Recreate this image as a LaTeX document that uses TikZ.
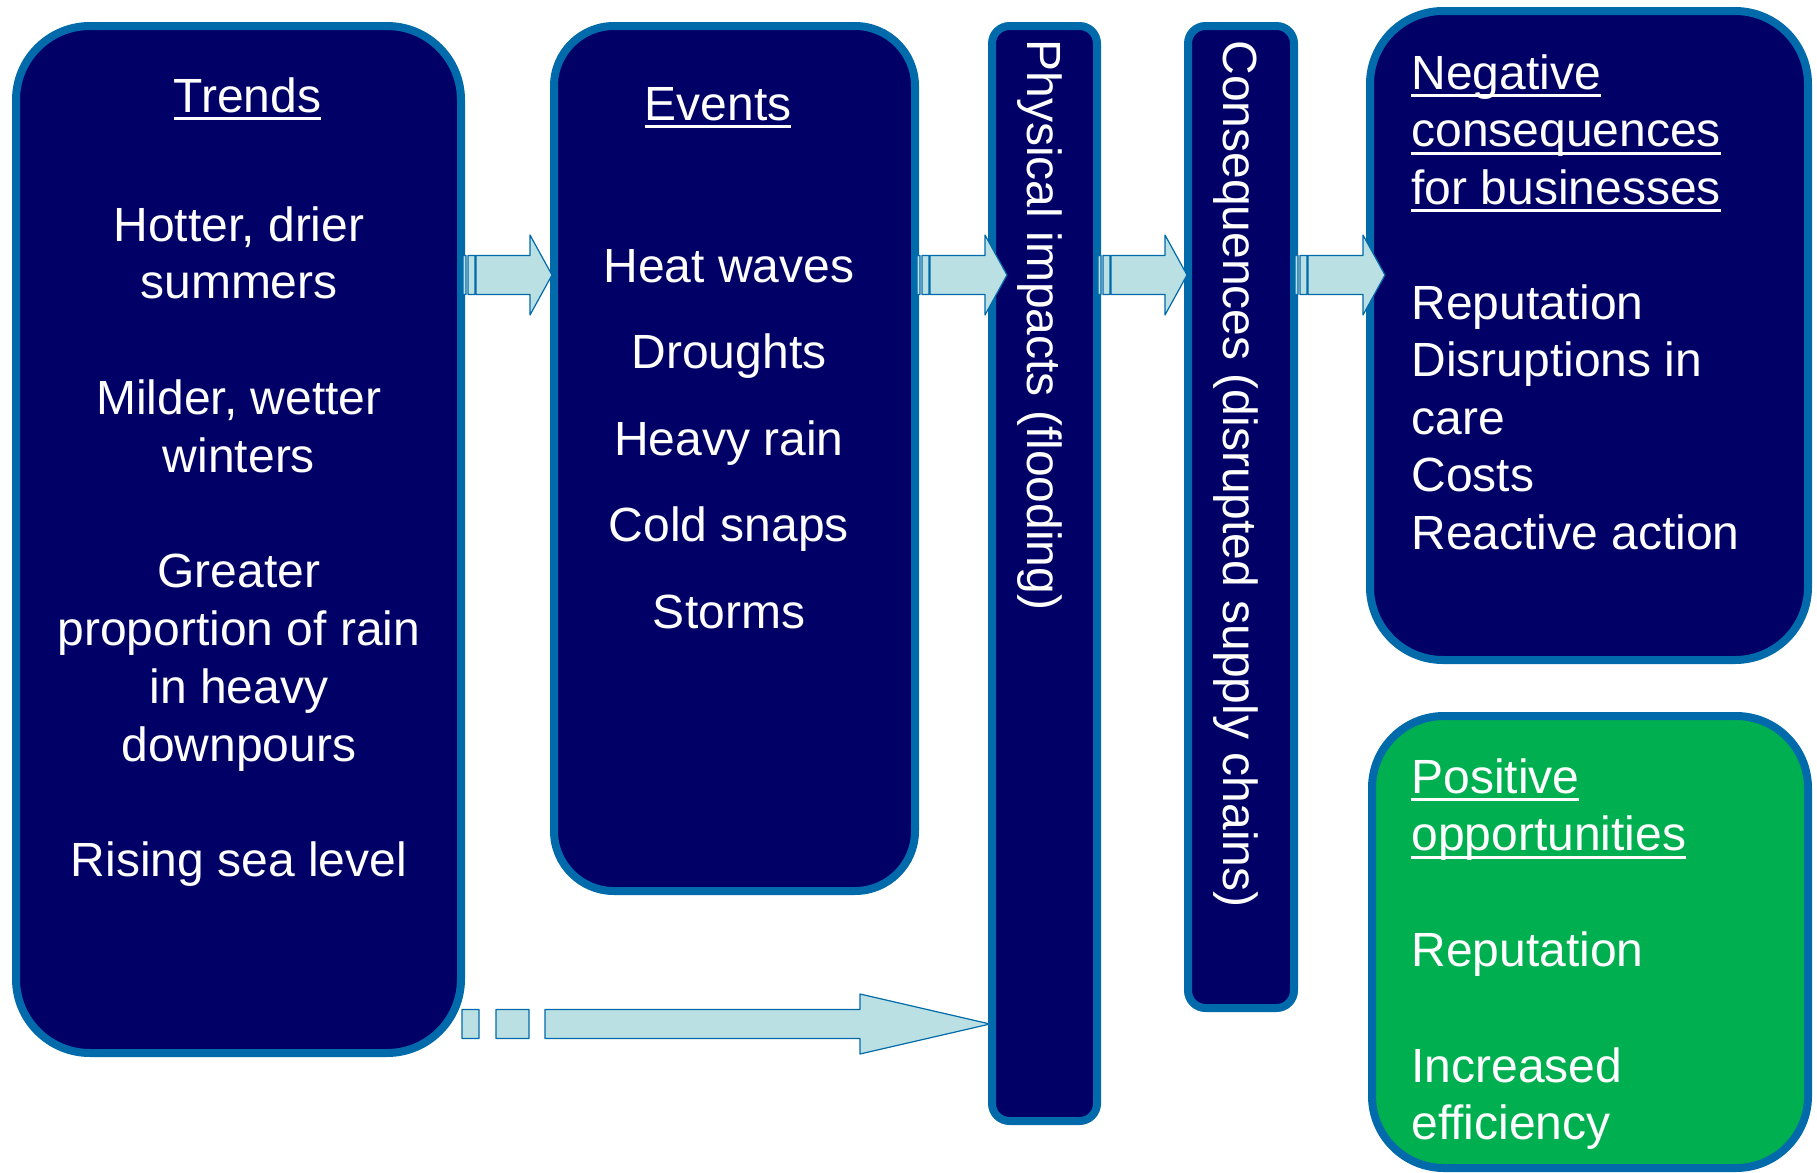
\documentclass[tikz,border=0pt]{standalone}
\usepackage{fontspec}
\setmainfont{Liberation Sans}
\usetikzlibrary{calc}
\definecolor{navy}{RGB}{0,0,102}
\definecolor{rim}{RGB}{0,106,170}
\definecolor{pale}{RGB}{186,224,227}
\definecolor{leaf}{RGB}{0,176,80}
\newcommand{\ulin}[1]{\setbox0\hbox{#1}\rlap{\vrule width\wd0 height -2.5pt depth 4pt}\box0}
% striped block arrow: start, tip
\newcommand{\stripearrow}[2]{%
  \draw[blockarrow] let \p1=#1, \p2=#2 in
    (\x1,\y1-9.75pt) rectangle (\x1+1.5pt,\y1+9.75pt)
    (\x1+2.5pt,\y1-9.75pt) rectangle (\x1+6pt,\y1+9.75pt)
    (\x1+6.5pt,\y1-9.75pt) -- (\x2-11pt,\y1-9.75pt) -- (\x2-11pt,\y1-20pt) -- (\x2,\y1)
    -- (\x2-11pt,\y1+20pt) -- (\x2-11pt,\y1+9.75pt) -- (\x1+6.5pt,\y1+9.75pt) -- cycle;}
\begin{document}
\begin{tikzpicture}[x=0.5pt,y=-0.5pt, line join=round,
	box/.style={draw=rim, line width=4pt, fill=navy, inner sep=0pt, outer sep=0pt},
	blockarrow/.style={draw=rim, fill=pale, line width=0.6pt},
	txt/.style={text=white, inner sep=0pt, font=\fontsize{24pt}{29pt}\selectfont}]
	\useasboundingbox (0,0) rectangle (1817,1173);
	
	% Boxes
	\node[box, rounded corners=37pt, minimum width=222.5pt, minimum height=513.5pt] (trends) at (238.5,539.5) {};
	\node[box, rounded corners=30pt, minimum width=180.5pt, minimum height=432.5pt] (events) at (734.5,458.5) {};
	\node[box, rounded corners=8.75pt, minimum width=52.5pt, minimum height=547.5pt] (physical) at (1044.5,573.5) {};
	\node[box, rounded corners=8.75pt, minimum width=53pt, minimum height=491pt] (consequences) at (1241,517) {};
	\node[box, rounded corners=36.5pt, minimum width=219pt, minimum height=324.5pt] (negative) at (1589,335.5) {};
	\node[box, fill=leaf, rounded corners=36pt, minimum width=218pt, minimum height=226pt] (positive) at (1590,942) {};
	
	% Arrows
	\coordinate (arow) at (0,275);
	\coordinate (brow) at (0,1024);
	\stripearrow{($(trends.east|-arow)+(2,0)$)}{($(events.west|-arow)+(-2,0)$)}
	\stripearrow{($(events.east|-arow)+(2,0)$)}{($(physical.west|-arow)+(15,0)$)}
	\stripearrow{($(physical.east|-arow)+(1,0)$)}{($(consequences.west|-arow)+(-1,0)$)}
	\stripearrow{($(consequences.east|-arow)+(1,0)$)}{($(negative.west|-arow)+(15,0)$)}
	\draw[blockarrow] let \p1=($(trends.east|-brow)+(1,0)$), \p2=($(physical.west|-brow)+(-2,0)$) in
		(\x1,\y1-7.25pt) rectangle (\x1+8.5pt,\y1+7.25pt)
		(\x1+17pt,\y1-7.25pt) rectangle (\x1+33.5pt,\y1+7.25pt)
		(\x1+41.5pt,\y1-7.25pt) -- (\x2-65pt,\y1-7.25pt) -- (\x2-65pt,\y1-15pt) -- (\x2,\y1)
		-- (\x2-65pt,\y1+15pt) -- (\x2-65pt,\y1+7.25pt) -- (\x1+41.5pt,\y1+7.25pt) -- cycle;
	
	% Texts
	\node[txt, anchor=base] (trends-title) at (247.5,112) {\ulin{Trends}};
	\foreach \k/\entry in {0/{Hotter, drier},1/summers,3/{Milder, wetter},4/winters,6/Greater,7/{proportion of rain},8/in heavy,9/downpours,11/Rising sea level}
		\node[txt, anchor=base] (trends-\k) at (239,241+57.8*\k) {\entry};
	\node[txt, anchor=base] (events-title) at (718,120) {\ulin{Events}};
	\foreach \entry [count=\i from 0] in {Heat waves,Droughts,Heavy rain,Cold snaps,Storms}
		\node[txt, anchor=base] (events-\i) at (729,282+86.5*\i) {\entry};
	\node[txt, rotate=-90, anchor=base west] (physical-text) at (1027,39) {Physical impacts (flooding)};
	\node[txt, rotate=-90, anchor=base west] (consequences-text) at (1223,40) {Consequences (disrupted supply chains)};
	\foreach \k/\entry in {0/\ulin{Negative},1/\ulin{consequences},2/\ulin{for businesses},4/Reputation,5/Disruptions in,6/care,7/Costs,8/Reactive action}
		\node[txt, anchor=base west] (negative-\k) at (1411,89+57.5*\k) {\entry};
	\foreach \k/\entry in {0/\ulin{Positive},1/\ulin{opportunities},3/Reputation,5/Increased,6/efficiency}
		\node[txt, anchor=base west] (positive-\k) at (1411,793+57.8*\k) {\entry};
\end{tikzpicture}
\end{document}
